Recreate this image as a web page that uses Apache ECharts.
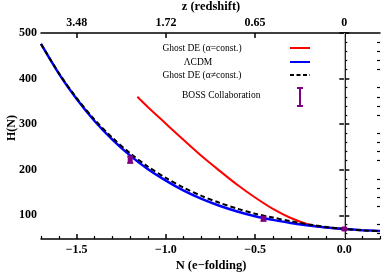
<!DOCTYPE html>
<html><head><meta charset="utf-8">
<script src="https://cdn.jsdelivr.net/npm/echarts@6/dist/echarts.min.js"></script>
<style>html,body{margin:0;padding:0;background:#fff}#c{width:382px;height:273px}</style>
</head><body><div id="c"></div>
<script>
// ---- data ----
const nGrid = [-1.7,-1.6,-1.5,-1.4,-1.3,-1.2,-1.1,-1.0,-0.9,-0.8,-0.7,-0.6,-0.5,-0.4,-0.3,-0.2,-0.1,0.0,0.1,0.2];
const hLCDM = [476,411,355,307,266,231,201,176,154,136,121,108.5,98,90,83,77.6,73.3,70,67.4,65.5];
const hGhostVar = [476,412,357,310,270,236,206.5,182,160.5,142.5,127.5,114.5,103.5,95,87,80,74.3,70,67.1,65];
const nRed = [-1.16,-1.1,-1.0,-0.9,-0.8,-0.7,-0.6,-0.5,-0.4,-0.3,-0.2,-0.1,0.0];
const hGhostConst = [360,337,301,265,230,198,167,139,114,94,80,73,70];
const bossN = [-1.2,-0.453,0.0];
const bossH = [222,92.4,70];
const bossErr = [7,4.5,2];
const xMajor = [-1.5,-1.0,-0.5,0.0];
const xMinor = [-1.7,-1.6,-1.4,-1.3,-1.2,-1.1,-0.9,-0.8,-0.7,-0.6,-0.4,-0.3,-0.2,-0.1,0.1,0.2];
const zLabels = ['3.48','1.72','0.65','0'];
const yMajor = [100,200,300,400,500];
const yMinor = [60,80,120,140,160,180,220,240,260,280,320,340,360,380,420,440,460,480];

const pair = (xs, ys) => xs.map((x,i)=>[x, ys[i]]);
const FONT = 'Liberation Serif';
const lab = {fontFamily:FONT, fontWeight:'bold', fontSize:12, color:'#000'};
const XMIN=-1.7, XMAX=0.2, YMIN=48, YMAX=500;
const fmtX = v => { const s = Math.abs(v).toFixed(1); return v < -1e-9 ? '\u2212' + s : s; };

const chart = echarts.init(document.getElementById('c'), null, {renderer:'canvas'});
const baseX = {type:'value', min:XMIN, max:XMAX, splitLine:{show:false}};
const baseY = {type:'value', min:YMIN, max:YMAX, splitLine:{show:false}};
chart.setOption({
  animation:false,
  grid:{left:41, right:2, top:33, bottom:34},
  xAxis:[
    Object.assign({}, baseX, {position:'bottom',
      axisLine:{show:true, lineStyle:{color:'#000', width:1.5}},
      axisTick:{show:true, inside:true, length:5, customValues:xMajor, lineStyle:{color:'#000', width:1.5}},
      axisLabel:{show:true, customValues:xMajor, formatter:fmtX, margin:5, ...lab}}),
    Object.assign({}, baseX, {position:'bottom',
      axisLine:{show:false},
      axisTick:{show:true, inside:true, length:3, customValues:xMinor, lineStyle:{color:'#000', width:1.2}},
      axisLabel:{show:false}}),
    Object.assign({}, baseX, {position:'top',
      axisLine:{show:true, lineStyle:{color:'#000', width:1.5}},
      axisTick:{show:true, inside:true, length:5, customValues:xMajor, lineStyle:{color:'#000', width:1.5}},
      axisLabel:{show:true, customValues:xMajor, margin:4,
        formatter:(v)=>{ const i = xMajor.findIndex(m=>Math.abs(m-v)<1e-6); return i>=0? zLabels[i] : ''; }, ...lab}})
  ],
  yAxis:[
    Object.assign({}, baseY, {position:'left',
      axisLine:{show:true, lineStyle:{color:'#000', width:1.5}},
      axisTick:{show:true, inside:true, length:5, customValues:yMajor, lineStyle:{color:'#000', width:1.5}},
      axisLabel:{show:true, customValues:yMajor, margin:4, ...lab}}),
    Object.assign({}, baseY, {position:'left',
      axisLine:{show:false},
      axisTick:{show:true, inside:true, length:3, customValues:yMinor, lineStyle:{color:'#000', width:1.2}},
      axisLabel:{show:false}}),
    Object.assign({}, baseY, {position:'right',
      axisLine:{show:true, lineStyle:{color:'#000', width:1.5}},
      axisTick:{show:true, inside:true, length:5, customValues:yMajor, lineStyle:{color:'#000', width:1.5}},
      axisLabel:{show:false}}),
    Object.assign({}, baseY, {position:'right',
      axisLine:{show:false},
      axisTick:{show:true, inside:true, length:3, customValues:yMinor, lineStyle:{color:'#000', width:1.2}},
      axisLabel:{show:false}})
  ],
  series:[
    {type:'line', name:'zero', data:[], z:1, silent:true,
      markLine:{silent:true, symbol:['none','none'], label:{show:false},
        lineStyle:{color:'#b4b4b4', width:1.2, type:'solid'}, data:[{xAxis:0}]}},
    {type:'line', name:'Ghost DE (α=const.)', data:pair(nRed,hGhostConst), smooth:0.3, showSymbol:false,
      lineStyle:{color:'#ff0000', width:2}, z:3},
    {type:'line', name:'ΛCDM', data:pair(nGrid,hLCDM), smooth:0.3, showSymbol:false,
      lineStyle:{color:'#0000ff', width:2.5}, z:4},
    {type:'line', name:'Ghost DE (α≠const.)', data:pair(nGrid,hGhostVar), smooth:0.3, showSymbol:false,
      lineStyle:{color:'#000', width:2, type:[5,3]}, z:5},
    {type:'custom', name:'BOSS Collaboration', z:6,
      data: bossN.map((n,i)=>[n, bossH[i], bossErr[i]]),
      renderItem:(params, api)=>{
        const x=api.value(0), y=api.value(1), e=api.value(2);
        const p=api.coord([x,y]), hi=api.coord([x,y+e]), lo=api.coord([x,y-e]);
        const c='#800080', hw=3;
        return {type:'group', children:[
          {type:'line', shape:{x1:p[0],y1:hi[1],x2:p[0],y2:lo[1]}, style:{stroke:c, lineWidth:2}},
          {type:'line', shape:{x1:p[0]-hw,y1:hi[1],x2:p[0]+hw,y2:hi[1]}, style:{stroke:c, lineWidth:2}},
          {type:'line', shape:{x1:p[0]-hw,y1:lo[1],x2:p[0]+hw,y2:lo[1]}, style:{stroke:c, lineWidth:2}},
          {type:'rect', shape:{x:p[0]-2.5,y:p[1]-2.5,width:5,height:5}, style:{fill:c}}
        ]};
      }}
  ],
  graphic:[
    {type:'text', x:211, y:7, style:{text:'z (redshift)', font:'bold 12.5px "Liberation Serif"', fill:'#000', align:'center', verticalAlign:'middle'}},
    {type:'text', x:211, y:266, style:{text:'N (e\u2212folding)', font:'bold 12.5px "Liberation Serif"', fill:'#000', align:'center', verticalAlign:'middle'}},
    {type:'text', x:12, y:128, rotation:Math.PI/2, style:{text:'H(N)', font:'bold 12px "Liberation Serif"', fill:'#000', align:'center', verticalAlign:'middle'}},
    {type:'text', x:202, y:48, style:{text:'Ghost DE (\u03B1=const.)', font:'9.5px "Liberation Serif"', fill:'#000', align:'center', verticalAlign:'middle'}},
    {type:'text', x:198, y:62, style:{text:'\u039BCDM', font:'9.5px "Liberation Serif"', fill:'#000', align:'center', verticalAlign:'middle'}},
    {type:'text', x:202, y:75, style:{text:'Ghost DE (\u03B1\u2260const.)', font:'9.5px "Liberation Serif"', fill:'#000', align:'center', verticalAlign:'middle'}},
    {type:'text', x:182, y:95, style:{text:'BOSS Collaboration', font:'9.5px "Liberation Serif"', fill:'#000', align:'left', verticalAlign:'middle'}},
    {type:'line', shape:{x1:290,y1:48,x2:310,y2:48}, style:{stroke:'#ff0000', lineWidth:2}},
    {type:'line', shape:{x1:290,y1:62,x2:310,y2:62}, style:{stroke:'#0000ff', lineWidth:2}},
    {type:'line', shape:{x1:290,y1:75,x2:310,y2:75}, style:{stroke:'#000', lineWidth:2, lineDash:[4,2.5]}},
    {type:'line', shape:{x1:300,y1:88,x2:300,y2:106}, style:{stroke:'#800080', lineWidth:2}},
    {type:'line', shape:{x1:297,y1:88,x2:303,y2:88}, style:{stroke:'#800080', lineWidth:2}},
    {type:'line', shape:{x1:297,y1:106,x2:303,y2:106}, style:{stroke:'#800080', lineWidth:2}}
  ]
});
</script></body></html>
